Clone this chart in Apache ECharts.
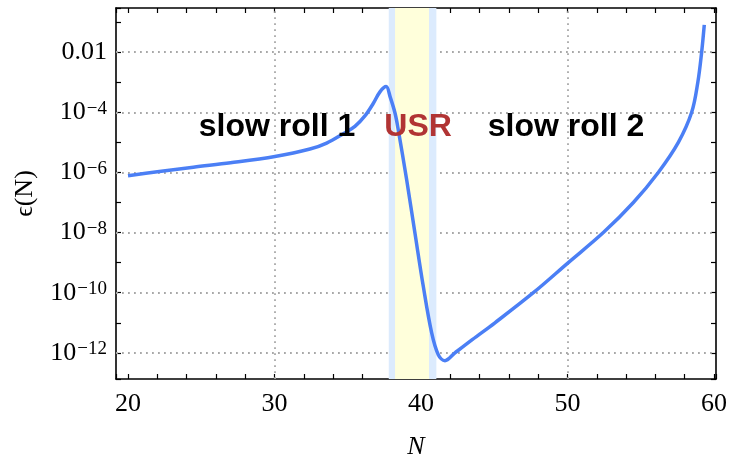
<!DOCTYPE html>
<html>
<head>
<meta charset="utf-8">
<script src="https://cdn.jsdelivr.net/npm/echarts@6/dist/echarts.min.js"></script>
<style>
html,body{margin:0;padding:0;background:#fff;}
#chart{width:730px;height:467px;}
</style>
</head>
<body>
<div id="chart"></div>
<script>
// e-folds N and slow-roll parameter eps(N)
var nValues = [20, 22, 24.46, 27, 30.03, 32.42, 33.56, 34.7, 35.49, 36.2, 36.75, 37.2, 37.62,
  37.9, 38.23, 38.45, 39.02, 39.59, 40.16, 40.73, 41.18, 41.64, 42.3, 43.5,
  45.05, 47.67, 50, 52.45, 54.5, 56.2, 57.57, 58.48, 58.9, 59.16, 59.34];
var epsValues = [7.8e-7, 1.05e-6, 1.5e-6, 2.1e-6, 3.4e-6, 6.0e-6, 9.5e-6, 1.95e-5, 3.4e-5, 7.9e-5, 2.0e-4, 4.8e-4, 7.2e-4,
  3.2e-4, 9.3e-5, 2.6e-5, 5.8e-7, 9.5e-9, 1.6e-10, 4.6e-12, 8.7e-13, 5.5e-13, 9.8e-13, 2.75e-12,
  1.0e-11, 1.0e-10, 9.5e-10, 1.0e-8, 1.0e-7, 1.0e-6, 1.0e-5, 1.0e-4, 1.0e-3, 1.0e-2, 8.1e-2];

var bandOuter = [37.8, 41.05];   // light blue
var bandInner = [38.23, 40.55];  // yellow
var xGridLines = [30, 40, 50];
var yGridExponents = [-12, -10, -8, -6, -4, -2];
var phaseNames = ['slow roll 1', 'USR', 'slow roll 2'];
var phaseN = [30.17, 39.8, 49.9];
var phaseEps = [3.3e-5, 3.3e-5, 3.3e-5];
var phaseColors = ['#000000', '#b13434', '#000000'];

var xMin = 19.18, xMax = 60.14;
var yMin = -12.87, yMax = -0.53;   // log10 of eps

var serif = 'Liberation Serif';

var lineData = nValues.map(function (n, i) { return [n, Math.log10(epsValues[i])]; });

function isInt(v) { return Math.abs(v - Math.round(v)) < 1e-6; }

function yLabel(v) {
  if (!isInt(v)) return '';
  var e = Math.round(v);
  if (e % 2 !== 0) return '';
  if (e === -2) return '{b|0.01}';
  return '{b|10}{s|\u2212' + (-e) + '}';
}

var gridMarks = xGridLines.map(function (x) { return {xAxis: x}; })
  .concat(yGridExponents.map(function (e) { return {yAxis: e}; }));

var chart = echarts.init(document.getElementById('chart'));

var tickStyle = {show: true, inside: true, length: 5, lineStyle: {color: '#000', width: 1.2}};
var lineAx = {show: true, lineStyle: {color: '#000', width: 1.6}};

var option = {
  animation: false,
  grid: {left: 116, right: 14, top: 8, bottom: 88},
  xAxis: [{
    type: 'value', position: 'bottom', min: xMin, max: xMax, splitNumber: 20,
    axisLine: lineAx, axisTick: tickStyle, splitLine: {show: false},
    axisLabel: {
      interval: 0, margin: 12, color: '#000', fontFamily: serif, fontSize: 26,
      showMinLabel: true, showMaxLabel: true,
      formatter: function (v) { return (isInt(v) && Math.round(v) % 10 === 0) ? String(Math.round(v)) : ''; }
    },
    name: 'N', nameLocation: 'middle', nameGap: 55,
    nameTextStyle: {fontFamily: serif, fontStyle: 'italic', fontSize: 26, color: '#000'}
  }, {
    type: 'value', position: 'top', min: xMin, max: xMax, splitNumber: 20,
    axisLine: lineAx, axisTick: tickStyle, splitLine: {show: false}, axisLabel: {show: false}
  }],
  yAxis: [{
    type: 'value', position: 'left', min: yMin, max: yMax, splitNumber: 12,
    axisLine: lineAx, axisTick: tickStyle, splitLine: {show: false},
    axisLabel: {
      interval: 0, margin: 9, color: '#000', formatter: yLabel,
      rich: {
        b: {fontFamily: serif, fontSize: 26, lineHeight: 26, color: '#000'},
        s: {fontFamily: serif, fontSize: 19, lineHeight: 16, verticalAlign: 'top', color: '#000', padding: [0, 0, 0, 1]}
      }
    },
    name: '\u03F5(N)', nameLocation: 'middle', nameGap: 78,
    nameTextStyle: {fontFamily: serif + ', DejaVu Serif', fontSize: 26, color: '#000'}
  }, {
    type: 'value', position: 'right', min: yMin, max: yMax, splitNumber: 12,
    axisLine: lineAx, axisTick: tickStyle, splitLine: {show: false}, axisLabel: {show: false}
  }],
  series: [{
    type: 'line',
    name: 'grid',
    data: [],
    z: 1,
    markLine: {
      silent: true, symbol: 'none', z: 1, animation: false,
      label: {show: false},
      lineStyle: {color: '#a8a8a8', width: 1.8, type: [1.8, 4.2]},
      data: gridMarks
    }
  }, {
    type: 'line',
    name: 'eps',
    data: lineData,
    xAxisIndex: 0, yAxisIndex: 0,
    showSymbol: false,
    smooth: 0.35,
    z: 3,
    lineStyle: {color: '#4b7ff5', width: 3.5},
    markArea: {
      silent: true, z: 2,
      data: [
        [{xAxis: bandOuter[0], itemStyle: {color: '#dcebfd'}}, {xAxis: bandOuter[1]}],
        [{xAxis: bandInner[0], itemStyle: {color: '#ffffdb'}}, {xAxis: bandInner[1]}]
      ]
    },
    markPoint: {
      silent: true, symbol: 'circle', symbolSize: 0, z: 4,
      data: phaseNames.map(function (nm, i) {
        return {
          name: nm, coord: [phaseN[i], Math.log10(phaseEps[i])],
          label: {
            show: true, position: 'inside', formatter: '{b}',
            fontFamily: 'Liberation Sans', fontWeight: 'bold', fontSize: 32, color: phaseColors[i]
          }
        };
      })
    }
  }]
};

chart.setOption(option);
</script>
</body>
</html>
